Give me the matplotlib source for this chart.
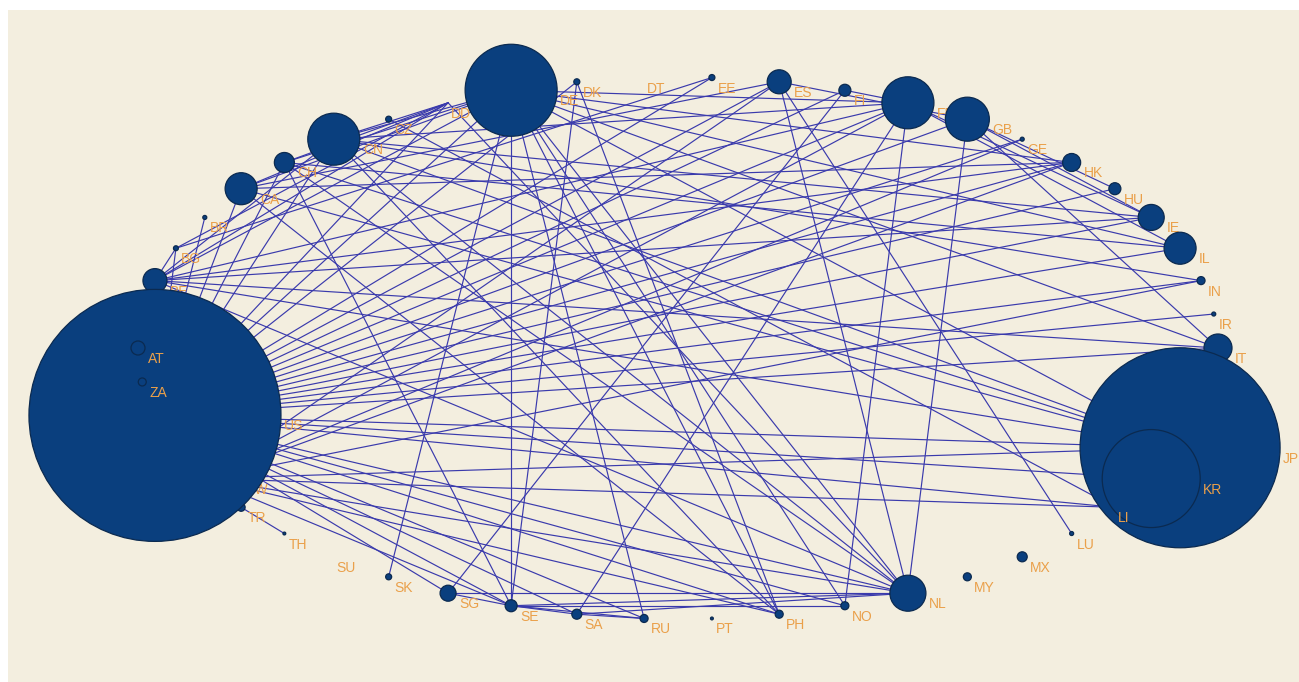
import numpy as np
import matplotlib
matplotlib.use("Agg")
import matplotlib.pyplot as plt
from matplotlib.patches import Circle

# node names in circle order (empty string = unlabeled slot)
nodes = ["AT", "", "BE", "BG", "BR", "CA", "CH", "CN", "CZ", "DD",
         "DE", "DK", "DT", "EE", "ES", "FI", "FR", "GB", "GE", "HK",
         "HU", "IE", "IL", "IN", "IR", "IT", "", "", "JP", "KR",
         "LI", "LU", "MX", "MY", "NL", "NO", "PH", "PT", "RU", "SA",
         "SE", "SG", "SK", "SU", "TH", "TR", "TW", "", "US", "ZA"]

# node weight (area-like), radius ~ sqrt(weight)
weights = [49, 0, 144, 6, 4, 256, 100, 676, 9, 0,
           2116, 9, 0, 9, 144, 36, 676, 484, 4, 81,
           36, 169, 256, 16, 4, 196, 0, 0, 10000, 2401,
           0, 4, 25, 16, 324, 16, 16, 2, 16, 25,
           36, 64, 9, 0, 2, 16, 1521, 0, 15876, 16]

# links between countries
links = [
    ("US", "BE"), ("US", "BG"), ("US", "BR"), ("US", "CA"), ("US", "CH"),
    ("US", "CN"), ("US", "DD"), ("US", "DE"), ("US", "DK"), ("US", "EE"),
    ("US", "ES"), ("US", "FI"), ("US", "FR"), ("US", "GB"), ("US", "GE"),
    ("US", "HK"), ("US", "HU"), ("US", "IE"), ("US", "IL"), ("US", "IN"),
    ("US", "IR"), ("US", "IT"), ("US", "JP"), ("US", "KR"), ("US", "LI"),
    ("US", "NL"), ("US", "NO"), ("US", "PH"), ("US", "RU"), ("US", "SA"),
    ("US", "SE"), ("US", "SG"),
    ("BE", "DD"), ("BE", "DE"), ("BE", "CN"), ("BE", "FR"),
    ("BE", "HK"), ("BE", "JP"), ("BE", "NL"), ("BE", "IT"), ("BE", "IE"),
    ("BE", "BG"), ("BG", "EE"), ("BG", "DD"),
    ("CA", "HK"), ("CA", "DD"), ("CA", "DE"), ("CA", "JP"), ("CA", "PH"),
    ("CH", "DD"), ("CH", "DE"), ("CH", "JP"), ("CH", "NL"), ("CH", "IL"),
    ("CH", "SE"),
    ("CN", "DD"), ("CN", "DE"), ("CN", "IN"), ("CN", "JP"), ("CN", "NL"),
    ("CN", "FR"), ("CN", "PH"), ("CN", "IE"),
    ("CZ", "LI"), ("DD", "NL"),
    ("DE", "SE"), ("DE", "SK"), ("DE", "FR"), ("DE", "NL"), ("DE", "PH"),
    ("DE", "NO"), ("DE", "RU"), ("DE", "JP"), ("DE", "HK"), ("DE", "IT"),
    ("DE", "IL"),
    ("DK", "SE"), ("DK", "PH"),
    ("ES", "NL"), ("ES", "LU"), ("ES", "GB"), ("ES", "TW"), ("ES", "CA"),
    ("FI", "SG"), ("FI", "FR"),
    ("FR", "IL"), ("FR", "IE"), ("FR", "SA"), ("FR", "NO"), ("FR", "TW"),
    ("GB", "NL"), ("GB", "IT"), ("GB", "IE"), ("GB", "HU"),
    ("GE", "TW"), ("HK", "TW"),
    ("NL", "SE"), ("NL", "SG"), ("NL", "TW"), ("NL", "SA"),
    ("SE", "NO"), ("SE", "RU"), ("SE", "SA"), ("SE", "SG"), ("SA", "RU"),
    ("TR", "TH"),
    ("TW", "JP"), ("TW", "LI"), ("TW", "IN"), ("TW", "SE"), ("TW", "PH"),
]

# elliptical layout in pixel units
n = len(nodes)
theta = np.pi - 2 * np.pi * np.arange(n) / n
cx, cy, a, b = 678, 348, 540, 271
xs = cx + a * np.cos(theta)
ys = cy - b * np.sin(theta)
radius = np.sqrt(np.array(weights, dtype=float))
pos = {name: i for i, name in enumerate(nodes) if name}

W, H = 1299, 682
fig = plt.figure(figsize=(W / 100, H / 100), dpi=100, facecolor="white")
ax = fig.add_axes([8 / W, 0, 1 - 8 / W, 1 - 10 / H])
ax.set_facecolor("#F3EEDF")
ax.set_xlim(8, W)
ax.set_ylim(H, 10)
ax.axis("off")
ax.add_patch(plt.Rectangle((8, 10), W, H, color="#F3EEDF", zorder=0))

for s, t in links:
    i, j = pos[s], pos[t]
    ax.plot([xs[i], xs[j]], [ys[i], ys[j]], color="#3A3AAC", lw=0.85,
            zorder=1)

# draw nodes in order, AT last (sits on top of US)
order = list(range(1, n)) + [0]
z = 2
for i in order:
    r = radius[i]
    if r > 0:
        ax.add_patch(Circle((xs[i], ys[i]), r, facecolor="#0A3F7E",
                            edgecolor="#0B2A50", lw=0.9, zorder=z))
    if nodes[i]:
        ax.text(xs[i] + r + 3, ys[i] + 11, nodes[i], color="#EAA04A",
                fontsize=10, family=["Liberation Sans", "DejaVu Sans"],
                ha="left", va="center", zorder=z + 0.5)
    z += 1

fig.savefig("out.png", dpi=100, facecolor="white")
